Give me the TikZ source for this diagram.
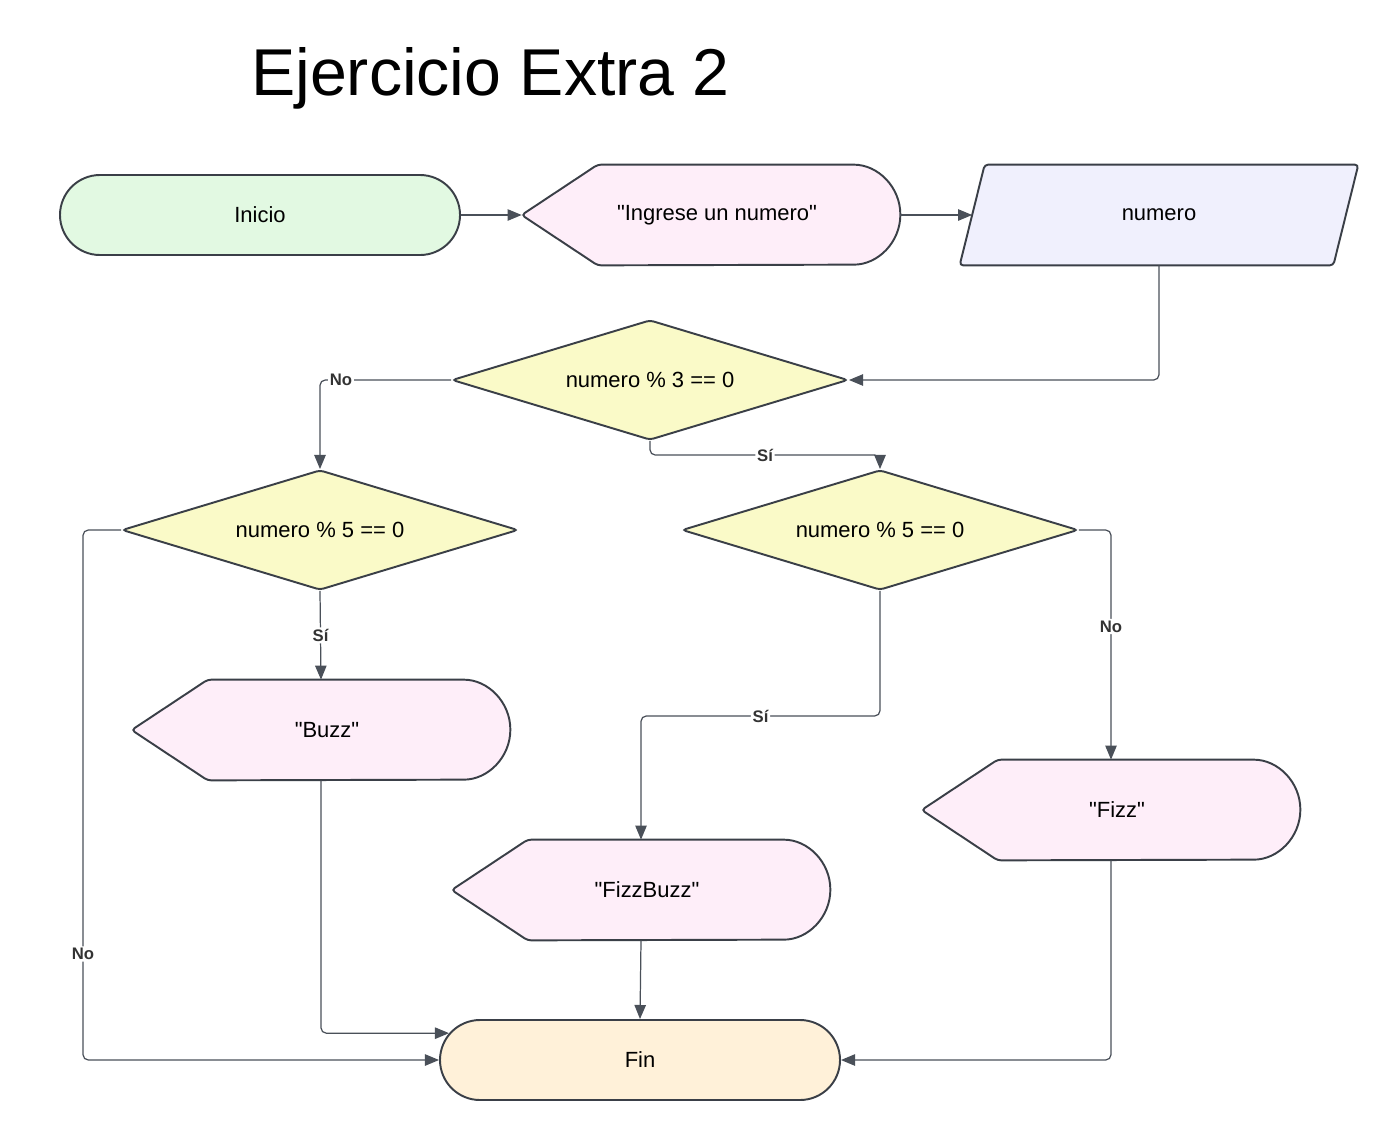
\documentclass[tikz,border=0pt]{standalone}
\usepackage{fontspec}
\setmainfont{Liberation Sans}[Ligatures=TeXOff]
\usetikzlibrary{calc,arrows.meta,shapes.geometric,shapes.misc}
\pgfdeclarelayer{back}
\pgfsetlayers{back,main}
\definecolor{edgec}{HTML}{3A3F47}
\definecolor{linec}{HTML}{4A5059}
\definecolor{startc}{HTML}{E2F9E2}
\definecolor{dispc}{HTML}{FEEEF9}
\definecolor{inputc}{HTML}{F0F0FD}
\definecolor{decc}{HTML}{FAFAC8}
\definecolor{endc}{HTML}{FFF1D9}
\tikzset{
  box/.style={font=\fontsize{12.5}{15}\selectfont, inner sep=0pt, line width=1.1pt, draw=edgec},
  terminal/.style={box, rounded rectangle, minimum width=8cm, minimum height=1.6cm},
  decision/.style={box, diamond, aspect=3.3, fill=decc, minimum width=7.92cm, minimum height=2.4cm, rounded corners=2pt},
  inputbox/.style={font=\fontsize{12.5}{15}\selectfont, inner sep=0pt, minimum width=7.96cm, minimum height=2cm},
  display/.style={font=\fontsize{12.5}{15}\selectfont, inner sep=0pt, minimum width=7.56cm, minimum height=2cm,
    execute at begin node=\hspace*{0.24cm}},
  dispshape/.style={draw=edgec, line width=1.1pt, fill=dispc, rounded corners=2pt},
  flow/.style={draw=linec, line width=0.7pt, rounded corners=3pt, -{Triangle[length=8pt,width=6.5pt]}},
  lbl/.style={fill=white, inner sep=1pt, text=black!80, font=\fontsize{9.5}{11}\selectfont\bfseries}
}

\begin{document}
\begin{tikzpicture}
\useasboundingbox (0,0) rectangle (28,-22.8);

\node (title) [anchor=base west, font=\fontsize{37.7}{45}\selectfont] at (4.9,-1.9) {Ejercicio Extra 2};

\node (inicio) [terminal, fill=startc] at (5.2,-4.3) {Inicio};
\node (ingrese) [display] at (14.22,-4.3) {"Ingrese un numero"};
\node (numero) [inputbox] at (23.18,-4.3) {numero};

\node (d1) [decision] at (13,-7.6) {numero \% 3 == 0};
\node (d2) [decision] at (6.4,-10.6) {numero \% 5 == 0};
\node (d3) [decision] at (17.6,-10.6) {numero \% 5 == 0};

\node (buzz) [display] at (6.42,-14.6) {"Buzz"};
\node (fizzbuzz) [display] at (12.82,-17.8) {"FizzBuzz"};
\node (fizz) [display] at (22.22,-16.2) {"Fizz"};

\node (fin) [terminal, fill=endc] at (12.8,-21.2) {Fin};

% shapes behind the display and input nodes
\begin{pgfonlayer}{back}
  \foreach \n in {ingrese,buzz,fizzbuzz,fizz}
    \draw[dispshape] (\n.west) -- ($(\n.north west)+(1.52,0)$) -- ($(\n.north east)+(-1,0)$)
      arc[start angle=90,end angle=-90,radius=1] -- ($(\n.south west)+(1.52,0)$) -- cycle;
  \draw[dispshape, fill=inputc] (numero.south west) -- ($(numero.north west)+(0.5,0)$)
    -- (numero.north east) -- ($(numero.south east)+(-0.5,0)$) -- cycle;
\end{pgfonlayer}

% connectors
\draw[flow] (inicio.east) -- (ingrese.west);
\draw[flow] (ingrese.east) -- ($(numero.west)+(0.25,0)$);
\draw[flow] (numero.south) |- (d1.east);
\draw[flow] (d1.west) -| node[lbl,pos=0.42] {No} (d2.north);
\draw[flow] (d1.south) |- node[lbl,pos=0.75] {Sí} ($(d3.north)+(0,0.28)$) -- (d3.north);
\draw[flow] (d2.west) -- ++(-0.76,0) |- node[lbl,pos=0.4] {No} (fin.west);
\draw[flow] (d2.south) -- node[lbl] {Sí} (buzz.north);
\draw[flow] (buzz.south) |- (fin.172);
\draw[flow] (d3.south) -- ++(0,-2.5) -| node[lbl,pos=0.25] {Sí} (fizzbuzz.north);
\draw[flow] (d3.east) -| node[lbl,pos=0.71] {No} (fizz.north);
\draw[flow] (fizzbuzz.south) -- (fin.north);
\draw[flow] (fizz.south) |- (fin.east);
\end{tikzpicture}
\end{document}
